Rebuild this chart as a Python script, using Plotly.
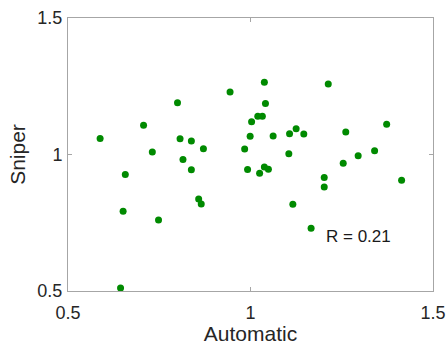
import plotly.graph_objects as go

automatic = [0.588, 0.707, 0.731, 0.800, 0.807, 0.838, 0.871, 0.815, 0.657, 0.838,
             0.944, 1.038, 1.041, 1.020, 1.0325, 1.003, 0.999, 1.062, 0.984, 1.107,
             1.125, 1.146, 1.213, 1.261, 1.373, 1.105, 1.340, 1.295, 1.254, 0.992,
             1.025, 1.038, 1.049, 1.202, 1.414, 1.202, 1.116, 1.166, 0.858, 0.865,
             0.651, 0.748, 0.644]
sniper = [1.059, 1.107, 1.009, 1.190, 1.058, 1.049, 1.021, 0.982, 0.927, 0.944,
          1.229, 1.265, 1.187, 1.140, 1.140, 1.120, 1.067, 1.068, 1.020, 1.076,
          1.094, 1.075, 1.258, 1.082, 1.111, 1.003, 1.014, 0.995, 0.968, 0.945,
          0.931, 0.954, 0.946, 0.916, 0.906, 0.881, 0.818, 0.730, 0.837, 0.819,
          0.792, 0.760, 0.511]
tick_vals = [0.5, 1, 1.5]
tick_text = ["0.5", "1", "1.5"]
r_label = "R = 0.21"

FONT = "Liberation Sans, Arial, Helvetica, sans-serif"
fig = go.Figure()
fig.add_trace(go.Scatter(x=automatic, y=sniper, mode="markers",
                         marker=dict(color="#008a00", size=7, line=dict(width=0)),
                         showlegend=False, cliponaxis=False))
fig.add_annotation(x=1.201, y=0.699, text=r_label, showarrow=False,
                   xanchor="left", yanchor="middle",
                   font=dict(family=FONT, size=17, color="#1a1a1a"))
axis_common = dict(range=[0.5, 1.5], tickvals=tick_vals, ticktext=tick_text,
                   showgrid=False, zeroline=False, showline=True, linecolor="#a6a6a6",
                   linewidth=1, mirror="allticks", ticks="inside", ticklen=4,
                   tickcolor="#a6a6a6", automargin=False,
                   tickfont=dict(family=FONT, size=18, color="#262626"))
fig.update_layout(
    width=448, height=345, paper_bgcolor="white", plot_bgcolor="white",
    margin=dict(l=68, r=15, t=18, b=54),
    xaxis=dict(**axis_common, ticklabelstandoff=5,
               title=dict(text="Automatic", standoff=4,
               font=dict(family=FONT, size=21, color="#262626"))),
    yaxis=dict(**axis_common, ticklabelstandoff=1,
               title=dict(text="Sniper", standoff=6,
               font=dict(family=FONT, size=21, color="#262626"))),
)
fig.write_html("out.html", config={"displayModeBar": False},
               post_script="document.body.style.margin='0';document.body.style.overflow='hidden';")
